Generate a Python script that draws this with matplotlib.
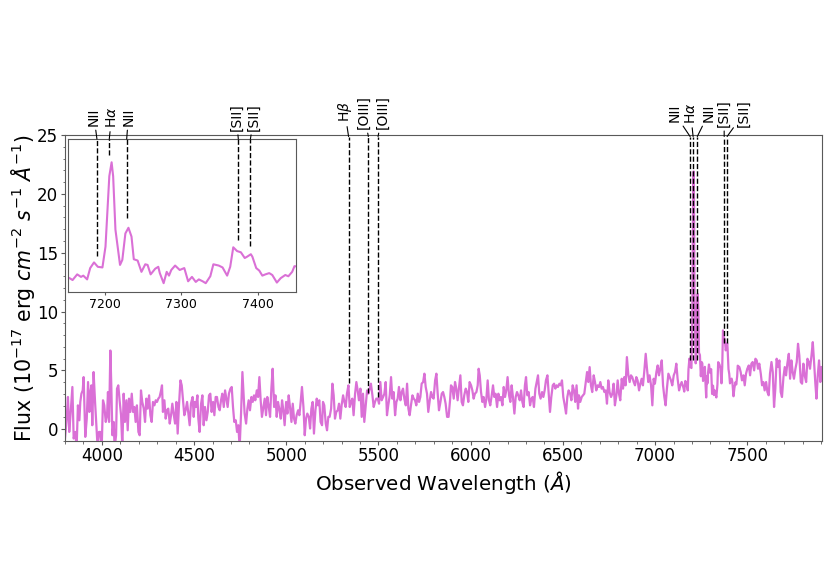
import numpy as np
import matplotlib
matplotlib.use("Agg")
import matplotlib.pyplot as plt
from matplotlib.ticker import MultipleLocator

# ---------------- data ----------------
wave_a = [3800, 3809, 3816, 3823, 3831, 3840, 3847, 3856, 3863, 3870, 3878, 3883, 3889, 3896, 3901, 3907,
          3910, 3918, 3925, 3932, 3937, 3943, 3948, 3955, 3963, 3970, 3977, 3984, 3992, 3999, 4006, 4013,
          4021, 4028, 4033, 4039, 4046, 4051, 4057, 4064, 4069, 4077, 4082, 4089, 4096, 4104, 4111, 4118,
          4125, 4133, 4140, 4147, 4154, 4162, 4169, 4176, 4183, 4190, 4198, 4205, 4212, 4219, 4227, 4234,
          4241, 4248, 4256, 4263, 4270, 4277, 4285, 4292, 4299, 4306, 4313, 4321, 4326, 4331, 4339, 4346,
          4353, 4360, 4368, 4375, 4382, 4389, 4397, 4404, 4411, 4418, 4426, 4433, 4440, 4447, 4454, 4462,
          4469, 4476, 4483]
flux_a = [-0.8, 0.90, 2.74, -0.23, 1.47, 3.59, -0.79, -0.23, -1.6, 2.03, 0.76, 2.32, 3.02, 3.30, 4.43, 1.19,
          -0.65, 0.90, 4.01, 1.47, 3.02, 3.73, 0.34, 4.86, 2.32, 0.34, -1.6, -0.23, -0.23, -1.6, 2.46, 2.03,
          0.62, 1.19, 3.16, 0.62, 6.69, 3.73, -0.51, 0.62, -1.6, -0.51, 3.45, 3.73, 2.46, 1.19, -1.6, 3.02,
          0.62, 2.46, -0.09, 2.60, 1.47, 3.02, 1.47, 1.89, 0.62, 2.03, -0.23, -0.51, 3.30, 2.32, 1.75, 0.62,
          2.60, 1.75, 2.88, 1.19, 0.62, 2.32, 2.03, 2.46, 2.32, 2.60, 2.74, 3.30, 3.73, 1.47, 2.46, 0.90,
          1.61, 1.75, 0.48, 1.19, 2.17, 1.33, 0.48, 2.32, -0.37, 2.03, 4.15, 3.73, 2.46, 1.19, 1.61, 2.32,
          1.33, 0.34, 2.17]

wave_b = [4492, 4498, 4503, 4510, 4518, 4523, 4530, 4538, 4545, 4552, 4559, 4567, 4574, 4581, 4588, 4595,
          4603, 4610, 4617, 4624, 4632, 4639, 4646, 4653, 4661, 4668, 4675, 4682, 4689, 4697, 4704, 4711,
          4718, 4726, 4733, 4740, 4747, 4755, 4762, 4767, 4774, 4782, 4789, 4796, 4803, 4811, 4818, 4825,
          4832, 4840, 4847, 4854, 4861, 4868, 4876, 4883, 4890, 4897, 4905, 4912, 4919, 4926, 4934, 4941,
          4948, 4955, 4962, 4970, 4977, 4984, 4991, 4999, 5006, 5013, 5020, 5028, 5035, 5042, 5049, 5056,
          5064, 5071, 5078, 5085, 5093, 5100, 5107, 5114, 5122, 5129, 5136, 5143, 5150, 5158, 5165, 5172,
          5179]
flux_b = [2.74, 1.05, 2.32, 1.89, 2.88, 0.90, -0.23, 2.17, 2.88, 0.34, 1.89, 0.76, 1.47, 2.88, 3.02, 1.47,
          2.32, 1.19, 2.74, 2.74, 1.89, 1.61, 2.46, 3.02, 1.89, 3.30, 2.60, 1.89, 3.02, 3.45, 3.59, 1.89,
          0.62, 0.76, -0.23, 0.34, -1.6, 1.47, 4.86, 3.45, 1.33, 0.48, 1.75, 2.46, 1.61, 2.74, 2.32, 2.88,
          2.46, 3.30, 2.74, 4.43, 2.46, 1.05, 1.89, 2.60, 1.19, 2.74, 1.89, 1.05, 3.45, 5.14, 1.89, 2.88,
          1.05, 2.32, 1.75, 0.90, 2.46, 1.61, 0.34, 2.32, 1.33, 2.88, 1.89, 0.62, 2.17, 0.90, 0.48, 1.19,
          1.61, 1.19, 2.32, 3.59, 1.89, -0.51, 0.90, 1.33, 1.05, 0.06, 1.75, 2.32, -0.37, 1.61, 2.60, 2.03,
          2.46]

wave_c = [5186, 5194, 5199, 5206, 5214, 5221, 5228, 5235, 5243, 5250, 5257, 5264, 5271, 5279, 5286, 5293,
          5300, 5308, 5315, 5322, 5329, 5337, 5344, 5351, 5358, 5365, 5373, 5380, 5387, 5394, 5402, 5409,
          5416, 5423, 5431, 5438, 5445, 5452, 5459, 5467, 5474, 5481, 5488, 5496, 5503, 5510, 5517, 5525,
          5532, 5539, 5546, 5553, 5561, 5568, 5575, 5582, 5590, 5597, 5604, 5611, 5619, 5626, 5633, 5640,
          5648, 5655, 5662, 5669, 5676, 5684, 5691, 5698, 5705, 5713, 5720, 5727, 5734, 5742, 5749, 5756,
          5763, 5770, 5778, 5785, 5792, 5799, 5807, 5814, 5821, 5828, 5836, 5843, 5850, 5857, 5864, 5872]
flux_c = [0.62, 0.34, 2.32, 2.03, 0.48, -0.09, 1.05, 1.05, 1.75, 3.87, 2.88, 0.90, 1.47, 1.61, 2.17, 0.90,
          2.03, 2.88, 2.32, 1.89, 3.02, 3.73, 1.89, 2.32, 2.60, 1.19, 3.02, 4.01, 3.30, 2.46, 3.45, 1.05,
          3.02, 0.62, 2.03, 3.30, 3.02, 3.45, 3.87, 2.88, 1.89, 2.32, 2.60, 2.60, 2.17, 4.01, 2.46, 2.74,
          3.02, 4.01, 1.19, 2.03, 2.88, 4.43, 2.60, 3.16, 1.19, 2.32, 2.60, 3.59, 2.46, 3.16, 3.45, 2.60,
          2.03, 3.87, 1.75, 1.19, 2.03, 2.88, 2.60, 2.46, 2.03, 3.02, 2.32, 2.74, 3.87, 4.01, 4.72, 3.59,
          3.02, 1.47, 2.46, 3.16, 2.74, 2.60, 4.15, 4.72, 3.02, 1.61, 2.32, 3.02, 3.16, 2.74, 2.17, 1.05]

wave_d = [5880, 5888, 5893, 5900, 5908, 5915, 5922, 5929, 5937, 5944, 5951, 5958, 5965, 5973, 5980, 5987,
          5994, 6002, 6009, 6016, 6023, 6031, 6038, 6043, 6049, 6056, 6063, 6070, 6078, 6085, 6092, 6099,
          6106, 6114, 6121, 6128, 6135, 6143, 6150, 6157, 6164, 6172, 6179, 6186, 6193, 6200, 6208, 6215,
          6222, 6229, 6237, 6244, 6251, 6258, 6266, 6273, 6280, 6287, 6294, 6300, 6307, 6314, 6322, 6329,
          6336, 6343, 6351, 6358, 6365, 6372, 6379, 6387, 6394, 6401, 6408, 6416, 6423, 6430, 6437, 6445,
          6452, 6459, 6466, 6473, 6481, 6488, 6495, 6502, 6510, 6517, 6524, 6531, 6539, 6546, 6553, 6560,
          6567]
flux_d = [1.05, 2.46, 3.73, 3.59, 2.60, 4.01, 3.45, 2.46, 3.59, 4.58, 2.32, 2.03, 2.88, 3.45, 3.16, 2.32,
          4.01, 3.73, 3.30, 2.60, 3.02, 3.16, 3.73, 5.14, 4.58, 3.16, 2.32, 2.74, 1.89, 2.60, 4.15, 2.46,
          2.03, 2.88, 3.73, 2.74, 3.02, 1.89, 3.02, 2.46, 2.74, 2.03, 3.59, 2.74, 3.30, 4.43, 2.88, 2.32,
          3.73, 2.74, 1.33, 2.74, 3.16, 2.88, 2.46, 3.30, 2.32, 1.89, 3.73, 4.43, 2.88, 3.16, 2.03, 2.60,
          2.74, 1.89, 3.45, 4.01, 4.58, 3.02, 2.60, 3.16, 2.74, 3.30, 4.15, 4.58, 3.02, 1.47, 2.74, 3.73,
          3.87, 3.45, 3.73, 3.59, 3.87, 3.73, 4.15, 2.74, 2.03, 1.33, 2.74, 3.30, 3.02, 2.46, 3.73, 3.30,
          2.32]

wave_e = [6574, 6582, 6587, 6594, 6602, 6609, 6616, 6623, 6631, 6638, 6645, 6652, 6659, 6667, 6674, 6681,
          6688, 6696, 6703, 6710, 6717, 6725, 6732, 6739, 6746, 6753, 6761, 6768, 6775, 6782, 6790, 6797,
          6804, 6811, 6819, 6826, 6833, 6840, 6847, 6855, 6862, 6869, 6876, 6884, 6891, 6898, 6905, 6913,
          6920, 6927, 6934, 6941, 6949, 6956, 6963, 6970, 6978, 6985, 6992, 6999, 7007, 7014, 7021, 7028,
          7036, 7043, 7050, 7057, 7064, 7072, 7079, 7086, 7093, 7101, 7108, 7115, 7122, 7130, 7137, 7144]
flux_e = [3.73, 1.75, 2.88, 2.32, 2.74, 2.88, 3.02, 3.87, 4.86, 4.01, 5.28, 3.73, 3.16, 4.58, 4.01, 3.30,
          3.73, 3.59, 4.01, 3.45, 3.59, 3.16, 3.30, 2.17, 4.15, 3.16, 2.74, 3.02, 3.87, 2.03, 2.88, 4.15,
          3.02, 2.46, 4.29, 3.45, 4.43, 3.73, 6.13, 4.58, 4.01, 4.58, 4.43, 4.01, 3.73, 4.43, 4.15, 3.30,
          3.87, 4.29, 3.73, 4.86, 6.41, 5.14, 4.01, 4.58, 3.73, 2.03, 4.29, 3.87, 4.86, 5.42, 4.58, 5.14,
          5.85, 3.73, 2.74, 2.03, 3.45, 4.72, 4.43, 4.15, 3.73, 4.58, 4.86, 5.57, 4.29, 3.30, 3.73, 4.01]

# H-alpha / [SII] region
wave_f = [7154, 7158, 7164, 7169, 7172, 7177, 7181, 7186, 7191, 7197, 7201, 7206, 7209, 7211, 7214, 7220,
          7223, 7227, 7231, 7235, 7238, 7243, 7248, 7253, 7256, 7260, 7266, 7270, 7272, 7277, 7281, 7284,
          7287, 7292, 7298, 7304, 7309, 7314, 7319, 7323, 7328, 7332, 7338, 7342, 7349, 7354, 7360, 7364,
          7368, 7373, 7378, 7383, 7386, 7391, 7393, 7398, 7402, 7406, 7410, 7415, 7419, 7425, 7430, 7436,
          7440, 7445, 7448]
flux_f = [3.5, 3.2, 4.1, 3.7, 3.9, 3.3, 5.1, 6.0, 5.3, 5.2, 8.5, 19.7, 21.9, 19.7, 11.2, 5.6,
          6.4, 10.6, 11.5, 10.1, 6.5, 6.3, 4.5, 5.7, 5.6, 4.1, 5.0, 5.3, 4.3, 2.7, 4.5, 3.9,
          4.8, 5.5, 4.8, 5.1, 3.0, 3.7, 2.9, 3.3, 3.0, 2.7, 3.8, 5.7, 5.5, 5.2, 3.9, 5.3,
          8.4, 7.8, 7.6, 6.7, 6.9, 7.3, 6.9, 5.1, 4.7, 3.9, 4.1, 4.3, 4.0, 2.8, 3.5, 4.0,
          3.8, 4.5, 5.4]

wave_g = [7457, 7464, 7471, 7479, 7486, 7493, 7500, 7508, 7515, 7522, 7529, 7537, 7544, 7551, 7558, 7565,
          7573, 7580, 7587, 7594, 7602, 7609, 7616, 7623, 7631, 7638, 7645, 7652, 7659, 7667, 7674, 7681,
          7688, 7696, 7703, 7710, 7717, 7725, 7732, 7739, 7746, 7753, 7761, 7768, 7775, 7782, 7790, 7797,
          7804, 7811, 7819, 7826, 7833, 7840, 7848, 7855, 7862, 7869, 7875, 7882, 7889, 7896, 7903]
flux_g = [5.28, 4.86, 4.15, 4.58, 3.73, 4.72, 5.14, 5.42, 4.58, 5.57, 5.71, 5.00, 5.99, 5.85, 5.14, 5.57,
          4.72, 3.73, 4.01, 3.30, 4.01, 3.16, 2.88, 4.72, 5.71, 4.86, 1.89, 3.45, 5.99, 5.28, 5.85, 3.16,
          2.74, 4.43, 5.28, 4.58, 5.57, 6.41, 4.29, 5.85, 4.86, 4.29, 5.14, 5.71, 7.26, 6.27, 4.01, 3.87,
          5.57, 4.58, 4.01, 5.99, 5.71, 5.14, 6.27, 7.40, 5.71, 3.87, 2.60, 4.58, 5.85, 4.01, 5.28]

wave = np.array(wave_a + wave_b + wave_c + wave_d + wave_e + wave_f + wave_g, dtype=float)
flux = np.array(flux_a + flux_b + flux_c + flux_d + flux_e + flux_f + flux_g, dtype=float)

redshift = 0.098
# main-panel lines
main_labels = ["H$\\beta$", "[OIII]", "[OIII]", "NII", "H$\\alpha$", "NII", "[SII]", "[SII]"]
main_rest = [4861.3, 4958.9, 5006.8, 6548.1, 6562.8, 6583.5, 6716.4, 6730.8]
# inset lines
inset_labels = ["NII", "H$\\alpha$", "NII", "[SII]", "[SII]"]
inset_rest = [6548.1, 6562.8, 6583.5, 6716.4, 6730.8]

# ---------------- layout / style ----------------
main_label_x = [5318, 5421, 5524, 7104, 7193, 7292, 7374, 7482]
main_line_end = [3.9, 3.1, 2.7, 5.85, 5.85, 5.85, 7.3, 7.3]
main_label_y = [1.075, 1.075, 1.075, 1.072, 1.072, 1.072, 1.072, 1.072]
inset_label_x = [7186, 7209, 7231, 7372, 7395]
inset_line_end = [7.0, 23.1, 13.1, 9.6, 8.6]

color = "orchid"
W, H = 830, 587
fig = plt.figure(figsize=(W / 100, H / 100), dpi=100)

ax = fig.add_axes([65 / W, 1 - 441 / H, (822 - 65) / W, (441 - 135) / H])
ax.plot(wave, flux, color=color, lw=1.6, zorder=2)
ax.set_xlim(3800, 7905)
ax.set_ylim(-1, 25)
ax.xaxis.set_minor_locator(MultipleLocator(100))
ax.yaxis.set_minor_locator(MultipleLocator(1))
ax.tick_params(which="both", direction="out", labelsize=12, color="0.35", labelcolor="black")
ax.tick_params(which="major", length=3)
ax.tick_params(which="minor", length=1.8)
ax.tick_params(axis="x", which="both", pad=1)
ax.tick_params(axis="y", which="both", pad=2)
for s in ax.spines.values():
    s.set_color("0.35")
ax.set_xlabel(r"Observed Wavelength ($\AA$)", fontsize=14.3, labelpad=3)
ax.set_ylabel(r"Flux (10$^{-17}$ erg $cm^{-2}$ $s^{-1}$ $\AA^{-1}$)", fontsize=14.8, labelpad=0)

trans_main = ax.get_xaxis_transform()
for lab, rest, lx, ly, yend in zip(main_labels, main_rest, main_label_x, main_label_y, main_line_end):
    lw_obs = rest * (1 + redshift)
    ax.annotate(lab, xy=(lw_obs, 0.995), xycoords=trans_main,
                xytext=(lx, ly), textcoords=trans_main,
                rotation=90, ha="center", va="center", fontsize=10,
                arrowprops=dict(arrowstyle="-", color="k", lw=0.8, shrinkA=1, shrinkB=0),
                annotation_clip=False)
    ax.plot([lw_obs, lw_obs], [yend, 24.87], color="k", ls="--", lw=1.0, zorder=3)

# ---------------- inset ----------------
axin = fig.add_axes([68 / W, 1 - 292 / H, (296 - 68) / W, (292 - 139) / H])
axin.plot(wave, flux, color=color, lw=1.5)
axin.set_xlim(7152, 7450)
axin.set_ylim(1.3, 25.6)
axin.set_yticks([])
axin.set_xticks([7200, 7300, 7400])
axin.tick_params(which="both", direction="out", labelsize=9, length=2, pad=2,
                 color="0.35", labelcolor="black")
for s in axin.spines.values():
    s.set_color("0.35")

trans_in = axin.get_xaxis_transform()
for lab, rest, lx, yend in zip(inset_labels, inset_rest, inset_label_x, inset_line_end):
    lw_obs = rest * (1 + redshift)
    axin.annotate(lab, xy=(lw_obs, 1.0), xycoords=trans_in,
                  xytext=(lx, 1.145), textcoords=trans_in,
                  rotation=90, ha="center", va="center", fontsize=10,
                  arrowprops=dict(arrowstyle="-", color="k", lw=0.8, shrinkA=1, shrinkB=0),
                  annotation_clip=False)
    axin.plot([lw_obs, lw_obs], [yend, 25.6], color="k", ls="--", lw=1.0, zorder=3)

fig.savefig("out.png", dpi=100)
